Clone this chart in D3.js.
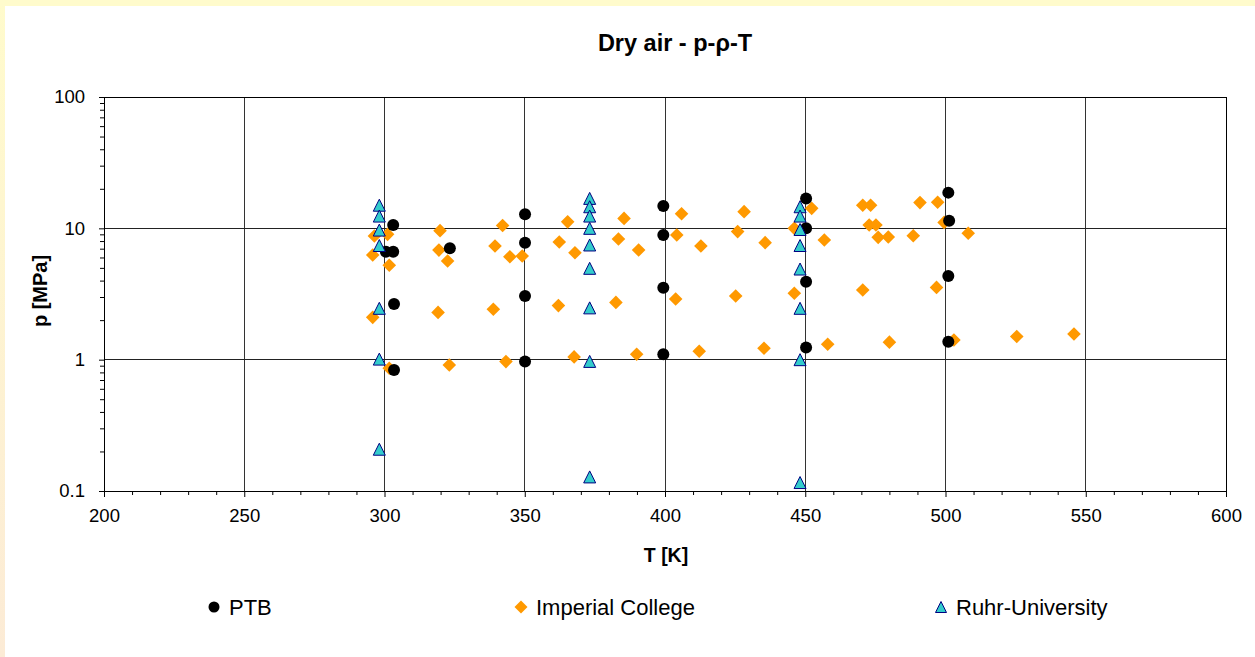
<!DOCTYPE html>
<html>
<head>
<meta charset="utf-8">
<script src="https://cdn.jsdelivr.net/npm/d3@7"></script>
<style>
  html, body { margin: 0; padding: 0; background: #fff; }
  svg { display: block; font-family: "Liberation Sans", Arial, sans-serif; }
</style>
</head>
<body>
<svg id="chart" width="1255" height="657"></svg>
<script>
// ---- data ----
const xTicks = [200, 250, 300, 350, 400, 450, 500, 550, 600];
const yTicks = [0.1, 1, 10, 100];
const yTickLabels = ["0.1", "1", "10", "100"];
const seriesNames = ["PTB", "Imperial College", "Ruhr-University"];

const ptbT = [300.5, 303.1, 303.1, 303.4, 303.4, 323.3, 350.1, 350.1, 350.1, 350.1,
              399.4, 399.4, 399.4, 399.4, 450.3, 450.3, 450.3, 450.3, 501.0, 501.3, 501.0, 501.0];
const ptbP = [6.63, 10.6, 6.63, 2.65, 0.834, 7.04, 12.8, 7.77, 3.05, 0.97,
              14.8, 8.9, 3.53, 1.10, 16.9, 10.0, 3.92, 1.24, 18.7, 11.4, 4.33, 1.37];

const icT = [296.4, 301.1, 295.8, 301.7, 319.8, 319.4, 322.5, 295.8, 319.1, 301.7, 323.1,
             342.1, 339.4, 344.7, 349.1, 365.3, 362.3, 367.9, 385.4, 383.4, 390.6, 338.8, 362.0, 382.5, 343.3, 367.6, 389.9,
             405.9, 404.2, 412.8, 403.8, 412.2, 428.2, 425.9, 435.7, 425.2, 435.3, 446.1, 446.1, 452.3, 456.8, 458.0,
             470.5, 473.3, 472.8, 475.2, 476.0, 479.6, 490.9, 497.2, 488.5, 499.5, 508.1, 470.5, 496.8, 480.0, 503.0, 525.4, 545.8];
const icP = [8.74, 9.0, 6.26, 5.23, 9.6, 6.83, 5.64, 2.10, 2.29, 0.86, 0.91,
             10.5, 7.33, 6.08, 6.15, 11.2, 7.87, 6.52, 11.9, 8.29, 6.84, 2.42, 2.58, 2.73, 0.967, 1.05, 1.10,
             12.9, 8.89, 7.33, 2.90, 1.16, 13.4, 9.44, 7.78, 3.05, 1.22, 10.0, 3.20, 14.2, 8.15, 1.31,
             15.0, 15.0, 10.6, 10.6, 8.54, 8.6, 15.7, 15.8, 8.79, 11.1, 9.18, 3.39, 3.55, 1.36, 1.41, 1.50, 1.57];

const ruT = [298.15, 298.15, 298.15, 298.15, 298.15, 298.15, 298.15,
             373.15, 373.15, 373.15, 373.15, 373.15, 373.15, 373.15, 373.15, 373.15,
             448.15, 448.15, 448.15, 448.15, 448.15, 448.15, 448.15, 448.15];
const ruP = [15.0, 12.4, 9.7, 7.4, 2.46, 1.01, 0.208,
             16.9, 14.6, 12.4, 10.0, 7.47, 4.96, 2.48, 0.97, 0.128,
             14.6, 12.4, 9.8, 7.4, 4.9, 2.46, 1.0, 0.116];

// ---- layout ----
const W = 1255, H = 657;
const plot = { left: 104, right: 1226, top: 97, bottom: 491 };
const svg = d3.select("#chart");

// background
const defs = svg.append("defs");
const grad = defs.append("linearGradient").attr("id", "lg").attr("x1", 0).attr("y1", 0).attr("x2", 0).attr("y2", 1);
grad.append("stop").attr("offset", "0%").attr("stop-color", "#FFFBCC");
grad.append("stop").attr("offset", "100%").attr("stop-color", "#FCEBD6");
svg.append("rect").attr("x", 0).attr("y", 0).attr("width", W).attr("height", H).attr("fill", "#fff");
svg.append("rect").attr("x", 0).attr("y", 0).attr("width", 5).attr("height", H).attr("fill", "url(#lg)");
svg.append("rect").attr("x", 0).attr("y", 0).attr("width", W).attr("height", 6).attr("fill", "#FFFBCC");

const x = d3.scaleLinear().domain([200, 600]).range([plot.left, plot.right]);
const y = d3.scaleLog().domain([0.1, 100]).range([plot.bottom, plot.top]);

// gridlines
const g = svg.append("g");
g.selectAll("line.vg").data(xTicks.slice(1, -1)).enter().append("line")
  .attr("x1", d => x(d)).attr("x2", d => x(d))
  .attr("y1", plot.top).attr("y2", plot.bottom)
  .attr("stroke", "#333").attr("stroke-width", 1).attr("shape-rendering", "crispEdges");
g.selectAll("line.hg").data(yTicks.slice(1, -1)).enter().append("line")
  .attr("x1", plot.left).attr("x2", plot.right)
  .attr("y1", d => y(d)).attr("y2", d => y(d))
  .attr("stroke", "#222").attr("stroke-width", 1).attr("shape-rendering", "crispEdges");

// plot frame
svg.append("rect").attr("x", plot.left).attr("y", plot.top)
  .attr("width", plot.right - plot.left).attr("height", plot.bottom - plot.top)
  .attr("fill", "none").attr("stroke", "#000").attr("stroke-width", 1).attr("shape-rendering", "crispEdges");

// x axis
const xMinor = d3.range(200, 601, 10).filter(v => v % 50 !== 0);
const xAxis = d3.axisBottom(x).tickValues(xTicks).tickSize(6).tickPadding(12).tickFormat(d3.format("d"));
const xg = svg.append("g").attr("transform", `translate(0,${plot.bottom})`).call(xAxis);
xg.select(".domain").attr("stroke", "#000");
xg.selectAll(".tick line").attr("stroke", "#000");
xg.selectAll("text").attr("font-size", 18.5).attr("fill", "#000").attr("font-family", "Liberation Sans, Arial, sans-serif");
svg.append("g").attr("transform", `translate(0,${plot.bottom})`)
  .call(d3.axisBottom(x).tickValues(xMinor).tickSize(4).tickFormat(""))
  .call(s => { s.select(".domain").remove(); s.selectAll("line").attr("stroke", "#000"); });

// y axis
const yMinor = [];
[0.1, 1, 10].forEach(dec => { for (let k = 2; k <= 9; k++) yMinor.push(dec * k); });
const yAxis = d3.axisLeft(y).tickValues(yTicks).tickSize(5).tickPadding(14)
  .tickFormat((d, i) => yTickLabels[i]);
const yg = svg.append("g").attr("transform", `translate(${plot.left},0)`).call(yAxis);
yg.select(".domain").attr("stroke", "#000");
yg.selectAll(".tick line").attr("stroke", "#000");
yg.selectAll("text").attr("font-size", 18.5).attr("fill", "#000").attr("font-family", "Liberation Sans, Arial, sans-serif");
svg.append("g").attr("transform", `translate(${plot.left},0)`)
  .call(d3.axisLeft(y).tickValues(yMinor).tickSize(4).tickFormat(""))
  .call(s => { s.select(".domain").remove(); s.selectAll("line").attr("stroke", "#000"); });

// titles
svg.append("text").attr("x", 675).attr("y", 51).attr("text-anchor", "middle")
  .attr("font-size", 23.5).attr("font-weight", "bold").text("Dry air - p-ρ-T");
svg.append("text").attr("x", 666).attr("y", 562).attr("text-anchor", "middle")
  .attr("font-size", 19.5).attr("font-weight", "bold").text("T [K]");
svg.append("text").attr("transform", "translate(47,291) rotate(-90)").attr("text-anchor", "middle")
  .attr("font-size", 20).attr("font-weight", "bold").text("p [MPa]");

// markers
const circleSym = d3.symbol().type(d3.symbolCircle).size(Math.PI * 6 * 6);
function diamondPath(r) { return `M0,${-r}L${r},0L0,${r}L${-r},0Z`; }
function trianglePath(w, h) { return `M0,${-h/2}L${w/2},${h/2}L${-w/2},${h/2}Z`; }

const icData = icT.map((t, i) => ({ t, p: icP[i] }));
const ptbData = ptbT.map((t, i) => ({ t, p: ptbP[i] }));
const ruData = ruT.map((t, i) => ({ t, p: ruP[i] }));

svg.append("g").selectAll("path").data(icData).enter().append("path")
  .attr("transform", d => `translate(${x(d.t)},${y(d.p)})`)
  .attr("d", diamondPath(6.8)).attr("fill", "#FF9900");
svg.append("g").selectAll("path").data(ptbData).enter().append("path")
  .attr("transform", d => `translate(${x(d.t)},${y(d.p)})`)
  .attr("d", circleSym).attr("fill", "#000");
svg.append("g").selectAll("path").data(ruData).enter().append("path")
  .attr("transform", d => `translate(${x(d.t)},${y(d.p)})`)
  .attr("d", trianglePath(12, 12)).attr("fill", "#33CCCC").attr("stroke", "#000080").attr("stroke-width", 1);

// legend
const legendX = [214, 521, 941];
const legendY = 607;
const lg = svg.append("g");
seriesNames.forEach((name, i) => {
  const m = lg.append("path").attr("transform", `translate(${legendX[i]},${legendY})`);
  if (i === 0) m.attr("d", d3.symbol().type(d3.symbolCircle).size(Math.PI * 5.5 * 5.5)).attr("fill", "#000");
  if (i === 1) m.attr("d", diamondPath(6.5)).attr("fill", "#FF9900");
  if (i === 2) m.attr("d", trianglePath(11, 11)).attr("fill", "#33CCCC").attr("stroke", "#000080");
  lg.append("text").attr("x", legendX[i] + 15).attr("y", legendY + 8)
    .attr("font-size", 22).attr("fill", "#000").text(name);
});
</script>
</body>
</html>
